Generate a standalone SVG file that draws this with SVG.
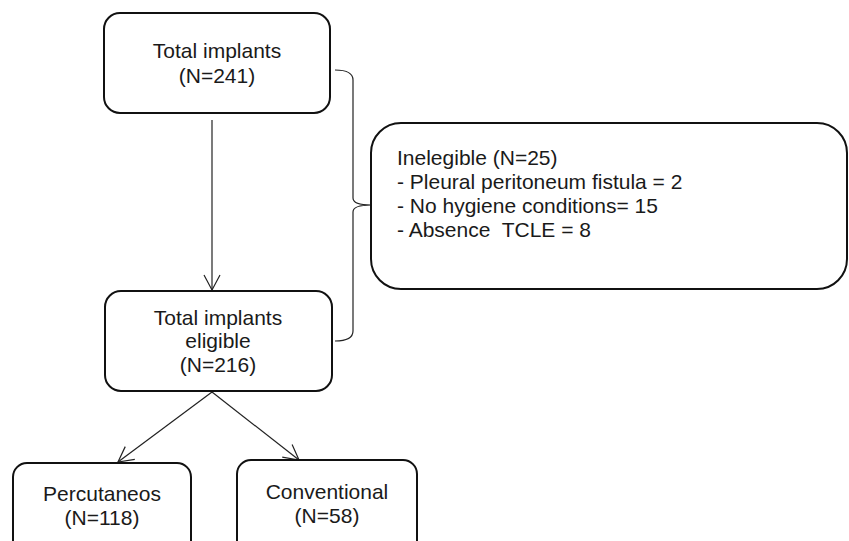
<svg xmlns="http://www.w3.org/2000/svg" width="849" height="541" viewBox="0 0 849 541">
<style>
.box{fill:#fff;stroke:#111;stroke-width:2}
.t{font-family:"Liberation Sans",Arial,sans-serif;font-size:21px;fill:#1a1a1a;white-space:pre}
.c{text-anchor:middle}
.ln{fill:none;stroke:#222;stroke-width:1.2}
</style>
<defs>
<marker id="ah" markerWidth="20" markerHeight="20" viewBox="-16 -10 20 20" refX="0" refY="0" orient="auto" markerUnits="userSpaceOnUse">
<path d="M-15,-8 L0,0 L-15,8" fill="none" stroke="#222" stroke-width="1.2"/>
</marker>
</defs>
<rect width="849" height="541" fill="#fff"/>
<g id="connectors">
<line class="ln" x1="212" y1="120" x2="212" y2="290" marker-end="url(#ah)"/>
<line class="ln" x1="212" y1="392" x2="118" y2="462" marker-end="url(#ah)"/>
<line class="ln" x1="212" y1="392" x2="299" y2="460" marker-end="url(#ah)"/>
<path class="ln" d="M335,70 Q353,70 353,80 L353,198 Q353,205 371,205 Q353,205 353,212 L353,331 Q353,341 335,341"/>
</g>
<g id="total">
<rect class="box" x="104" y="13" width="226" height="100" rx="16"/>
<text class="t c" x="217" y="58">Total implants</text>
<text class="t c" x="217" y="83">(N=241)</text>
</g>
<g id="ineligible">
<rect class="box" x="371" y="123" width="476" height="166" rx="30"/>
<text class="t" x="397" y="165">Inelegible (N=25)</text>
<text class="t" x="397" y="189">- Pleural peritoneum fistula = 2</text>
<text class="t" x="397" y="213">- No hygiene conditions= 15</text>
<text class="t" x="397" y="237" xml:space="preserve">- Absence  TCLE = 8</text>
</g>
<g id="eligible">
<rect class="box" x="105" y="291" width="227" height="100" rx="16"/>
<text class="t c" x="218" y="325">Total implants</text>
<text class="t c" x="218" y="348">eligible</text>
<text class="t c" x="218" y="372">(N=216)</text>
</g>
<g id="percutaneos">
<rect class="box" x="13" y="463" width="178" height="95" rx="14"/>
<text class="t c" x="102" y="501">Percutaneos</text>
<text class="t c" x="102" y="525">(N=118)</text>
</g>
<g id="conventional">
<rect class="box" x="237" y="460" width="180" height="95" rx="14"/>
<text class="t c" x="327" y="499">Conventional</text>
<text class="t c" x="327" y="523">(N=58)</text>
</g>
</svg>
